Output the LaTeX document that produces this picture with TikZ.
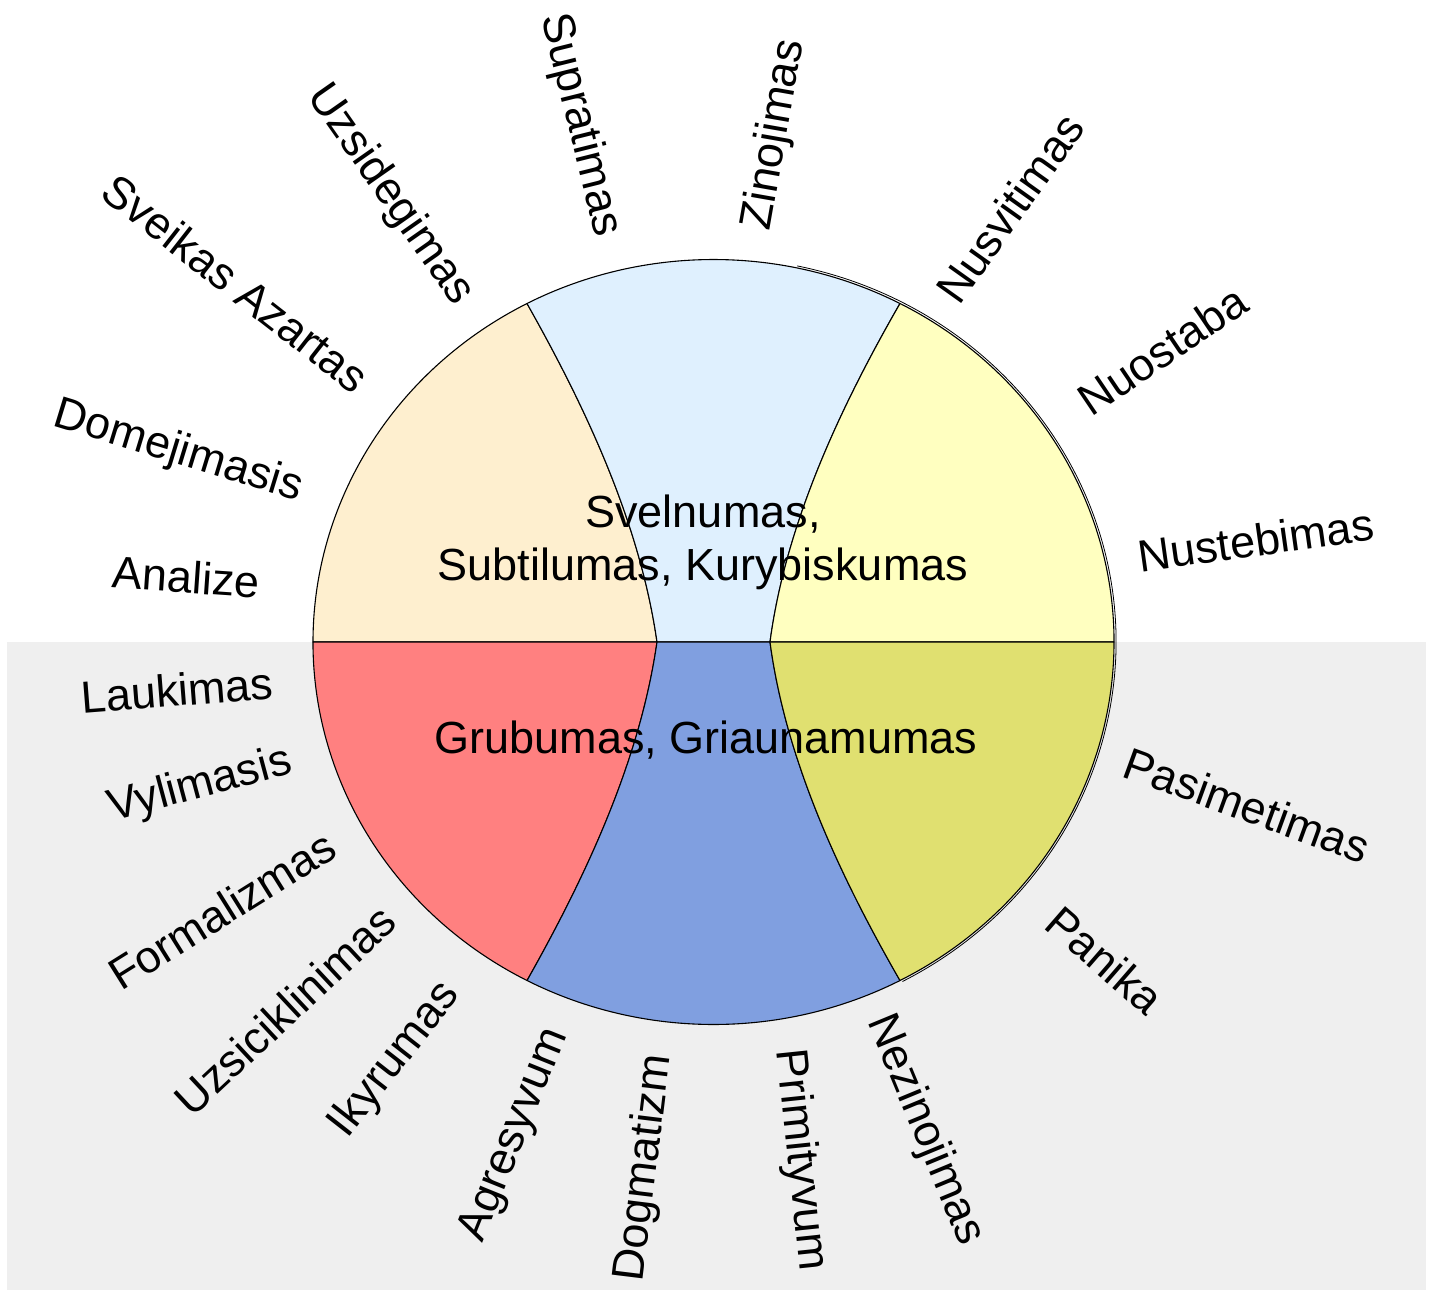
\documentclass[tikz,border=0pt]{standalone}
\usepackage{fontspec}
\setmainfont{Liberation Sans}
\definecolor{peach}{HTML}{FEEFCF}
\definecolor{lblue}{HTML}{DFF0FE}
\definecolor{lyellow}{HTML}{FFFFC0}
\definecolor{sred}{HTML}{FF8080}
\definecolor{sblue}{HTML}{809FE0}
\definecolor{olive}{HTML}{E0E070}
\definecolor{bggray}{HTML}{EFEFEF}
\tikzset{
  sector/.style={draw=black, line width=1.1pt, line join=round},
  lbl/.style={inner sep=0pt, font=\fontsize{45}{53}\selectfont},
  ctext/.style={inner sep=0pt, align=center, font=\fontsize{45}{53}\selectfont}
}
\begin{document}
\begin{tikzpicture}[x=1pt,y=1pt]
\useasboundingbox (0,-1295) rectangle (1434,0);
\fill[white] (0,-1295) rectangle (1434,0);
\fill[bggray] (7,-1290) rectangle (1426,-642);
% sectors
\path[sector, fill=peach] (313,-642) arc[start angle=180, end angle=117.75, x radius=400.5, y radius=382.5]
  .. controls (586,-408) and (640,-523) .. (657,-642) -- cycle;
\path[sector, fill=lblue] (527,-303.5) arc[start angle=117.75, end angle=62.25, x radius=400.5, y radius=382.5]
  .. controls (840,-408) and (786,-523) .. (770,-642) -- (657,-642)
  .. controls (640,-523) and (586,-408) .. cycle;
\path[sector, fill=lyellow] (900,-303.5) arc[start angle=62.25, end angle=0, x radius=400.5, y radius=382.5]
  -- (770,-642) .. controls (786,-523) and (840,-408) .. cycle;
\path[sector, fill=sred] (313,-642) -- (657,-642) .. controls (640,-761) and (586,-876) .. (527,-980.5)
  arc[start angle=-117.75, end angle=-180, x radius=400.5, y radius=382.5] -- cycle;
\path[sector, fill=sblue] (657,-642) -- (770,-642) .. controls (786,-761) and (840,-876) .. (900,-980.5)
  arc[start angle=-62.25, end angle=-117.75, x radius=400.5, y radius=382.5]
  .. controls (586,-876) and (640,-761) .. cycle;
\path[sector, fill=olive] (770,-642) -- (1114,-642)
  arc[start angle=0, end angle=-62.25, x radius=400.5, y radius=382.5]
  .. controls (840,-876) and (786,-761) .. cycle;
% offset outline on the right
\draw[line width=0.8pt] ([shift={(78:402.5 and 384.5)}]713.5,-642) arc[start angle=78, end angle=-62, x radius=402.5, y radius=384.5];
% centre texts
\node[ctext] (top) at (703,-542) {Svelnumas,\\Subtilumas, Kurybiskumas};
\node[ctext] (bottom) at (706,-740) {Grubumas, Griaunamumas};
% upper labels
\node[lbl, rotate=-4] (analize) at (186,-577) {Analize};
\node[lbl, rotate=-17] (domejimasis) at (178,-452) {Domejimasis};
\node[lbl, rotate=-38] (sveikas) at (236,-283) {Sveikas Azartas};
\node[lbl, rotate=-55] (uzsidegimas) at (390,-195) {Uzsidegimas};
\node[lbl, rotate=-76] (supratimas) at (580,-125) {Supratimas};
\node[lbl, rotate=80] (zinojimas) at (775,-135) {Zinojimas};
\node[lbl, rotate=54.5] (nusvitimas) at (1010,-208) {Nusvitimas};
\node[lbl, rotate=34] (nuostaba) at (1162,-350) {Nuostaba};
\node[lbl, rotate=8] (nustebimas) at (1256,-540) {Nustebimas};
% lower labels
\node[lbl, rotate=4.5] (laukimas) at (177,-690) {Laukimas};
\node[lbl, rotate=15] (vylimasis) at (200,-786) {Vylimasis};
\node[lbl, rotate=32] (formalizmas) at (222,-910) {Formalizmas};
\node[lbl, rotate=43] (uzsiciklinimas) at (285,-1010) {Uzsiciklinimas};
\node[lbl, rotate=52] (ikyrumas) at (395,-1060) {Ikyrumas};
\node[lbl, rotate=68] (agresyvum) at (515,-1135) {Agresyvum};
\node[lbl, rotate=83] (dogmatizm) at (645,-1168) {Dogmatizm};
\node[lbl, rotate=-84] (primityvum) at (800,-1160) {Primityvum};
\node[lbl, rotate=-67.5] (nezinojimas) at (925,-1130) {Nezinojimas};
\node[lbl, rotate=-20] (pasimetimas) at (1247,-805) {Pasimetimas};
\node[lbl, rotate=-41] (panika) at (1105,-960) {Panika};
\end{tikzpicture}
\end{document}
